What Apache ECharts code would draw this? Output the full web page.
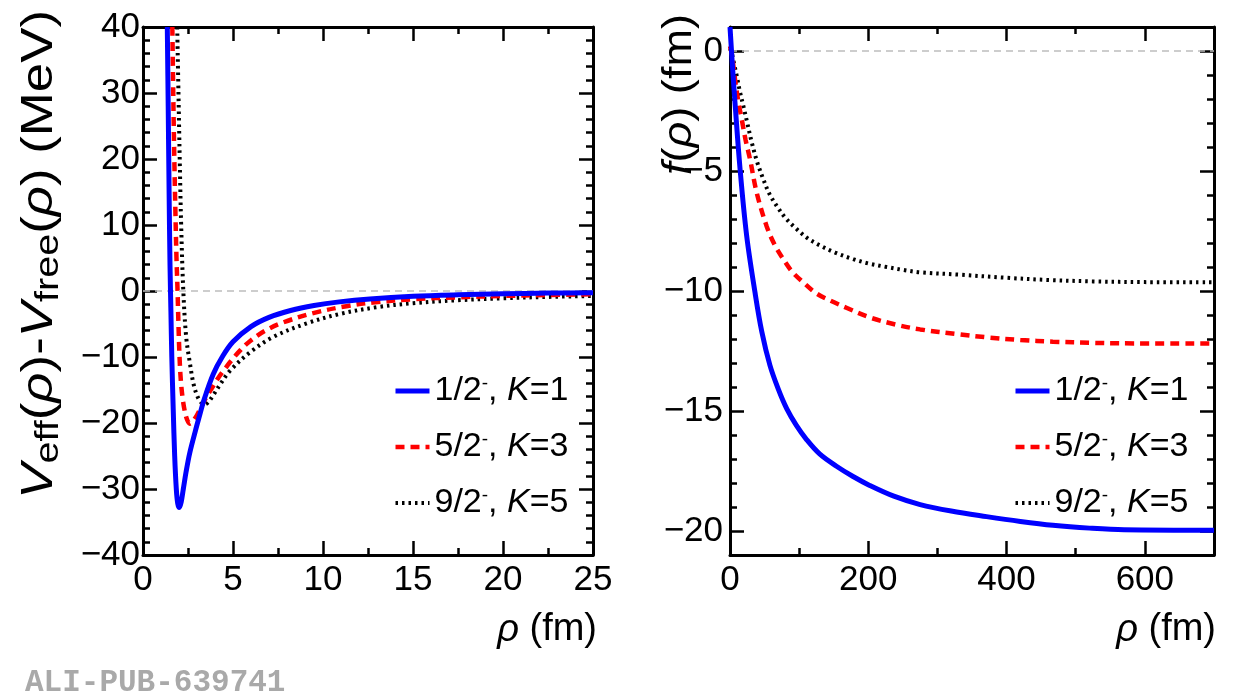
<!DOCTYPE html>
<html>
<head>
<meta charset="utf-8">
<title>Veff - Vfree and f(rho)</title>
<script src="https://cdn.jsdelivr.net/npm/echarts@6/dist/echarts.min.js"></script>
<style>
  html, body { margin: 0; padding: 0; background: #fff; }
  #main { width: 1246px; height: 698px; }
</style>
</head>
<body>
<div id="main"></div>
<script>
// series names (legend order)
var names = ['1/2-, K=1', '5/2-, K=3', '9/2-, K=5'];
var legendParts = [['1/2', '1'], ['5/2', '3'], ['9/2', '5']];

// left panel: Veff(rho) - Vfree(rho) [MeV] vs rho [fm]
var vK1 = [[1.35,40],[1.40,28],[1.45,15],[1.50,4],[1.55,-3],[1.60,-10],[1.68,-18],[1.76,-25],[1.85,-30],[1.93,-32.2],
  [2.02,-32.8],[2.12,-32],[2.24,-30],[2.40,-27.3],[2.6,-24.5],[2.9,-21.3],[3.1,-19.3],[3.4,-16.4],[3.9,-12.6],[4.4,-10],
  [5.0,-7.7],[6.0,-5.4],[7.0,-4.0],[8.2,-2.95],[9.5,-2.2],[10.9,-1.65],[12.6,-1.2],[15,-0.8],[17.5,-0.57],[20,-0.42],[22.5,-0.32],[25,-0.25]];
var vK3 = [[1.63,40],[1.68,30],[1.74,20],[1.80,12],[1.86,5],[1.92,0],[1.97,-5],[2.03,-10],[2.10,-13.5],[2.2,-16.2],
  [2.32,-18.2],[2.45,-19.5],[2.6,-20.1],[2.75,-19.8],[3.0,-18.8],[3.26,-17.4],[3.6,-15.7],[3.9,-14.4],[4.2,-13.1],[4.5,-12],
  [4.83,-10.8],[5.4,-9.0],[5.94,-7.6],[6.8,-6.0],[7.8,-4.75],[9.46,-3.35],[11.3,-2.3],[12.9,-1.7],[15,-1.25],[17.5,-0.95],[20,-0.75],[22.5,-0.6],[25,-0.5]];
var vK5 = [[1.9,40],[1.97,30],[2.04,20],[2.12,10],[2.24,0],[2.4,-7],[2.61,-11],[2.8,-14],[3.0,-15.8],[3.2,-16.8],
  [3.4,-17.2],[3.6,-16.9],[3.9,-15.8],[4.3,-14.1],[4.83,-12.1],[5.94,-9.3],[7.24,-6.95],[9.1,-4.9],[10.9,-3.5],[13,-2.45],
  [15,-1.85],[17.5,-1.4],[20,-1.1],[22.5,-0.9],[25,-0.75]];

// right panel: f(rho) [fm] vs rho [fm]
var fK1 = [[0,1],[3.5,-0.6],[7.2,-2.14],[14.5,-4.9],[24.1,-7.7],[36.1,-10.05],[46,-11.7],[57.8,-13.1],[70,-14.1],
  [82,-14.9],[96,-15.6],[111,-16.2],[130,-16.8],[154,-17.3],[178,-17.73],[202,-18.1],[237,-18.55],[275,-18.9],
  [320,-19.17],[371,-19.4],[420,-19.6],[467,-19.76],[520,-19.88],[570,-19.95],[700,-19.97]];
var fK3 = [[0,0.2],[3,-0.2],[7.2,-1.17],[12,-2.1],[16.9,-2.83],[22.5,-3.7],[28.9,-4.5],[38.6,-5.9],[53,-7.3],[65,-8.1],
  [77,-8.67],[90,-9.2],[106,-9.64],[125,-10.1],[145,-10.4],[170,-10.72],[202,-11.1],[240,-11.4],[275,-11.6],[330,-11.8],
  [371,-11.93],[420,-12.04],[467,-12.11],[525,-12.16],[564,-12.18],[700,-12.19]];
var fK5 = [[0,0.1],[2.5,-0.08],[6,-0.55],[9.7,-1.03],[14,-1.65],[19.2,-2.28],[25,-3.0],[31.4,-3.8],[39,-4.6],[48,-5.33],
  [57,-5.95],[67.5,-6.45],[80,-6.95],[96.4,-7.42],[112,-7.8],[130,-8.1],[152,-8.4],[178,-8.67],[200,-8.85],[226.5,-9.0],
  [250,-9.12],[275,-9.22],[332,-9.32],[400,-9.45],[460,-9.54],[525,-9.6],[600,-9.63],[700,-9.64]];

// ticks
var leftXMajor = [0, 5, 10, 15, 20, 25];
var leftXMinor = [2.5, 7.5, 12.5, 17.5, 22.5];
var leftYMajor = [-40, -30, -20, -10, 0, 10, 20, 30, 40];
var leftYMinor = [-38,-36,-34,-32,-28,-26,-24,-22,-18,-16,-14,-12,-8,-6,-4,-2,2,4,6,8,12,14,16,18,22,24,26,28,32,34,36,38];
var rightXMajor = [0, 200, 400, 600];
var rightXMinor = [100, 300, 500];
var rightYMajor = [-20, -15, -10, -5, 0];
var rightYMinor = [-19,-18,-17,-16,-14,-13,-12,-11,-9,-8,-7,-6,-4,-3,-2,-1];

var FONT = 'Liberation Sans';

function mkAxis(grid, pos, min, max, ticks, len, labels, margin) {
  return {
    type: 'value', gridIndex: grid, position: pos, min: min, max: max,
    axisLine: { show: len > 10, onZero: false, lineStyle: { color: '#000', width: 3 } },
    axisTick: { show: true, inside: true, length: len, customValues: ticks,
      lineStyle: { color: '#000', width: 2.5 } },
    axisLabel: { show: !!labels, customValues: ticks, margin: margin || 8, color: '#000',
      fontSize: 35, fontFamily: FONT,
      formatter: function (v) { return String(v).replace('-', '\u2212'); } },
    splitLine: { show: false }
  };
}

var gL = { left: 143, top: 27, width: 450, height: 528 };
var gR = { left: 730, top: 27, width: 484, height: 528 };

var styles = [
  { color: '#0000ff', width: 5, type: 'solid' },
  { color: '#ff0000', width: 4.5, type: [9, 6] },
  { color: '#000000', width: 4, type: [2.5, 4] }
];

function mkLine(idx, data, axisIdx, withZero) {
  var s = {
    name: names[idx], type: 'line', data: data,
    xAxisIndex: axisIdx, yAxisIndex: axisIdx,
    symbol: 'none', smooth: 0.35,
    lineStyle: styles[idx], itemStyle: { color: styles[idx].color },
    z: 5 - idx
  };
  if (withZero) {
    s.markLine = {
      silent: true, symbol: 'none', label: { show: false },
      lineStyle: { color: '#bdbdbd', type: [7, 5], width: 1.5 },
      data: [{ yAxis: 0 }]
    };
  }
  return s;
}

var rich = {
  n: { fontSize: 34, fontFamily: FONT, color: '#000' },
  sup: { fontSize: 19, fontFamily: FONT, color: '#000', verticalAlign: 'top', lineHeight: 19 },
  it: { fontSize: 34, fontFamily: FONT, color: '#000', fontStyle: 'italic' }
};

function legendFmt(name) {
  var p = legendParts[names.indexOf(name)];
  return '{n|' + p[0] + '}{sup|-}{n|, }{it|K}{n|=' + p[1] + '}';
}

function mkLegend(left) {
  return {
    orient: 'vertical', left: left, top: 369,
    itemWidth: 34, itemHeight: 14, itemGap: 22,
    data: names.map(function (n, i) {
      return { name: n, itemStyle: { opacity: 0 },
        lineStyle: { width: styles[i].width, type: styles[i].type, color: styles[i].color } };
    }),
    formatter: legendFmt,
    textStyle: { fontSize: 34, fontFamily: FONT, color: '#000', rich: rich }
  };
}

var titleRich = {
  n: { fontSize: 44, fontFamily: FONT, color: '#000' },
  it: { fontSize: 44, fontFamily: FONT, color: '#000', fontStyle: 'italic' },
  sub: { fontSize: 33, fontFamily: FONT, color: '#000', verticalAlign: 'bottom', padding: [17, 0, 0, 0] }
};
var fTitleRich = {
  n: { fontSize: 41, fontFamily: FONT, color: '#000' },
  it: { fontSize: 41, fontFamily: FONT, color: '#000', fontStyle: 'italic' }
};
var xTitleRich = {
  n: { fontSize: 38, fontFamily: FONT, color: '#000' },
  it: { fontSize: 38, fontFamily: FONT, color: '#000', fontStyle: 'italic' }
};

var chart = echarts.init(document.getElementById('main'));
chart.setOption({
  backgroundColor: '#fff',
  animation: false,
  grid: [gL, gR, gL, gR],
  xAxis: [
    mkAxis(0, 'bottom', 0, 25, leftXMajor, 14, true),
    mkAxis(0, 'top', 0, 25, leftXMajor, 14, false),
    mkAxis(1, 'bottom', 0, 700, rightXMajor, 14, true),
    mkAxis(1, 'top', 0, 700, rightXMajor, 14, false),
    mkAxis(2, 'bottom', 0, 25, leftXMinor, 7, false),
    mkAxis(2, 'top', 0, 25, leftXMinor, 7, false),
    mkAxis(3, 'bottom', 0, 700, rightXMinor, 7, false),
    mkAxis(3, 'top', 0, 700, rightXMinor, 7, false)
  ],
  yAxis: [
    mkAxis(0, 'left', -40, 40, leftYMajor, 14, true, 3),
    mkAxis(0, 'right', -40, 40, leftYMajor, 14, false),
    mkAxis(1, 'left', -21, 1, rightYMajor, 14, true, 7),
    mkAxis(1, 'right', -21, 1, rightYMajor, 14, false),
    mkAxis(2, 'left', -40, 40, leftYMinor, 7, false),
    mkAxis(2, 'right', -40, 40, leftYMinor, 7, false),
    mkAxis(3, 'left', -21, 1, rightYMinor, 7, false),
    mkAxis(3, 'right', -21, 1, rightYMinor, 7, false)
  ],
  legend: [mkLegend(388), mkLegend(1008)],
  series: [
    mkLine(2, vK5, 0, true),
    mkLine(1, vK3, 0, false),
    mkLine(0, vK1, 0, false),
    mkLine(2, fK5, 2, true),
    mkLine(1, fK3, 2, false),
    mkLine(0, fK1, 2, false)
  ],
  graphic: [
    { type: 'text', x: 40, y: 10, rotation: Math.PI / 2, scaleX: 1.2,
      style: { text: '{it|V}{sub|eff}{n|(}{it|\u03c1}{n|)-}{it|V}{sub|free}{n|(}{it|\u03c1}{n|) (MeV)}',
        rich: titleRich, align: 'right', verticalAlign: 'middle' } },
    { type: 'text', x: 680, y: 14, rotation: Math.PI / 2, scaleX: 1.1,
      style: { text: '{it|f}{n|(}{it|\u03c1}{n|) (fm)}',
        rich: fTitleRich, align: 'right', verticalAlign: 'middle' } },
    { type: 'text', x: 597, y: 630,
      style: { text: '{it|\u03c1}{n| (fm)}', rich: xTitleRich, align: 'right', verticalAlign: 'middle' } },
    { type: 'text', x: 1216, y: 630,
      style: { text: '{it|\u03c1}{n| (fm)}', rich: xTitleRich, align: 'right', verticalAlign: 'middle' } },
    { type: 'text', x: 25, y: 683,
      style: { text: 'ALI-PUB-639741', fontFamily: 'Liberation Mono', fontWeight: 'bold',
        fontSize: 31, fill: '#a9a9a9', align: 'left', verticalAlign: 'middle' } }
  ]
});
</script>
</body>
</html>
